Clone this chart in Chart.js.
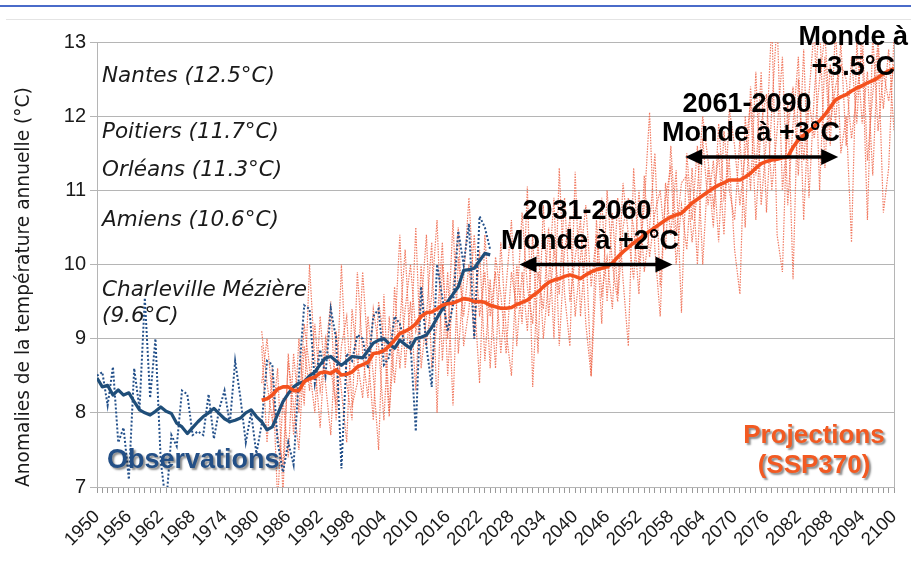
<!DOCTYPE html>
<html><head><meta charset="utf-8">
<script src="https://cdn.jsdelivr.net/npm/chart.js@4.4.1/dist/chart.umd.min.js"></script>
<style>
html,body{margin:0;padding:0;background:#fff;}
#wrap{position:relative;width:911px;height:566px;overflow:hidden;}
#topblue{position:absolute;left:0;top:5px;width:911px;height:2px;background:#4a6bc9;}
#topgray{position:absolute;left:6px;top:19px;width:905px;height:1px;background:#e4e4e4;}
canvas{position:absolute;left:0;top:0;}
</style></head><body>
<div id="wrap"><canvas id="c" width="911" height="566"></canvas><div id="topblue"></div><div id="topgray"></div></div>
<script>
// ---- Data ----
const obsStartYear = 1950;
const obsAnnual = [
  8.5, 8.55, 8.1, 8.62, 7.6, 7.8, 7.1, 8.6, 8.05, 9.55,
  8.2, 9.0, 7.35, 6.75, 7.7, 7.55, 8.3, 8.25, 7.7, 7.75,
  7.7, 8.25, 7.65, 8.05, 8.3, 7.85, 8.7, 8.2, 7.6, 8.0,
  7.45, 7.85, 8.7, 8.65, 7.6, 7.2, 7.6, 7.3, 8.5, 9.45,
  9.4, 8.4, 8.85, 8.5, 9.4, 9.0, 7.25, 8.8, 8.7, 9.05,
  9.0, 8.6, 9.3, 9.4, 8.65, 8.75, 9.3, 9.2, 8.9, 8.95,
  7.75, 9.7, 8.9, 8.35, 10.0, 9.55, 9.1, 9.45, 10.45, 10.0,
  10.55, 9.0, 10.65, 10.5, 10.2
];
const obsSmooth = [
  8.47, 8.35, 8.37, 8.24, 8.31, 8.24, 8.27, 8.15, 8.04, 8.00,
  7.97, 8.02, 8.08, 8.02, 7.99, 7.86, 7.81, 7.72, 7.80, 7.88,
  7.95, 8.00, 8.06, 7.99, 7.92, 7.88, 7.90, 7.93, 8.00, 8.04,
  7.95, 7.88, 7.77, 7.81, 7.98, 8.15, 8.26, 8.35, 8.40, 8.42,
  8.50, 8.55, 8.65, 8.74, 8.76, 8.70, 8.64, 8.70, 8.76, 8.75,
  8.74, 8.84, 8.94, 8.98, 9.00, 8.93, 8.87, 8.98, 8.92, 8.87,
  9.00, 9.02, 9.05, 9.15, 9.28, 9.40, 9.50, 9.60, 9.70, 9.92,
  9.93, 9.95, 10.05, 10.15, 10.13
];
const projStartYear = 1981;
const projSmooth = [
  8.17, 8.19, 8.24, 8.32, 8.35, 8.35, 8.30, 8.30, 8.42, 8.46,
  8.48, 8.54, 8.55, 8.53, 8.58, 8.51, 8.52, 8.55, 8.62, 8.65,
  8.68, 8.80, 8.81, 8.84, 8.90, 8.98, 9.07, 9.10, 9.14, 9.20,
  9.30, 9.35, 9.36, 9.40, 9.45, 9.47, 9.48, 9.51, 9.54, 9.53,
  9.50, 9.50, 9.49, 9.45, 9.43, 9.41, 9.41, 9.42, 9.46, 9.49,
  9.52, 9.58, 9.63, 9.70, 9.76, 9.79, 9.81, 9.84, 9.86, 9.84,
  9.81, 9.86, 9.90, 9.93, 9.95, 9.97, 10.02, 10.10, 10.17, 10.23,
  10.29, 10.34, 10.40, 10.45, 10.50, 10.55, 10.60, 10.64, 10.67, 10.69,
  10.76, 10.83, 10.88, 10.93, 10.98, 11.03, 11.07, 11.10, 11.14, 11.14,
  11.14, 11.18, 11.23, 11.30, 11.36, 11.39, 11.41, 11.42, 11.44, 11.45,
  11.58, 11.68, 11.74, 11.80, 11.86, 11.94, 12.02, 12.12, 12.22, 12.26,
  12.29, 12.34, 12.38, 12.41, 12.45, 12.48, 12.52, 12.57, 12.61, 12.64
];
const projMemberA = [
  8.9, 7.6, 8.6, 6.8, 8.2, 7.4, 8.8, 8.0, 9.2, 8.6,
  8.0, 9.3, 8.4, 7.7, 9.1, 8.3, 7.6, 9.4, 8.7, 8.2,
  9.3, 8.5, 7.5, 9.6, 8.0, 9.0, 10.4, 8.6, 9.5, 8.3,
  10.0, 8.9, 9.6, 10.6, 8.7, 9.9, 8.1, 10.1, 9.3, 10.0,
  9.0, 10.2, 8.7, 9.8, 8.6, 10.3, 9.1, 8.5, 10.0, 9.2,
  11.05, 8.35, 9.9, 9.4, 10.5, 9.0, 11.3, 9.6, 8.9, 11.25,
  9.3, 10.3, 8.5, 10.6, 9.6, 10.1, 9.4, 10.9, 9.8, 8.9,
  11.3, 10.0, 10.8, 12.05, 10.2, 9.3, 11.1, 10.4, 11.27, 9.35,
  11.5, 10.6, 11.6, 10.0, 11.3, 10.5, 11.9, 10.9, 11.4, 10.2,
  9.6, 12.0, 11.0, 12.6, 10.8, 11.7, 13.3, 10.4, 9.9, 12.2,
  9.8, 12.5, 11.4, 12.3, 13.2, 11.0, 12.8, 11.6, 13.2, 11.5,
  12.0, 10.3, 13.0, 11.9, 12.6, 11.2, 12.9, 10.7, 11.3, 13.1
];
const projMemberB = [
  9.1, 8.4, 7.9, 8.6, 6.9, 8.8, 7.7, 9.0, 8.1, 10.0,
  8.7, 7.8, 9.0, 8.6, 8.1, 10.0, 8.4, 7.9, 9.9, 8.8,
  8.2, 9.4, 8.9, 7.9, 9.3, 8.4, 9.2, 10.2, 8.8, 10.5,
  8.6, 9.3, 10.3, 8.0, 10.0, 9.0, 10.6, 8.8, 9.8, 10.9,
  9.6, 8.4, 10.4, 9.3, 9.9, 8.8, 9.7, 10.6, 8.9, 9.9,
  9.1, 10.4, 8.8, 10.8, 9.3, 10.2, 9.6, 10.9, 9.5, 10.1,
  10.6, 9.2, 8.49, 9.9, 10.9, 9.5, 10.7, 9.6, 11.1, 10.4,
  9.8, 11.0, 9.9, 10.5, 11.5, 9.7, 10.9, 11.3, 10.0, 10.8,
  10.2, 11.3, 10.0, 11.7, 10.8, 11.4, 10.3, 11.8, 11.0, 10.6,
  11.7, 10.5, 12.4, 11.2, 12.6, 10.7, 12.1, 13.3, 11.0, 11.8,
  12.4, 11.2, 12.9, 10.9, 12.3, 13.3, 11.3, 12.7, 11.9, 13.0,
  11.6, 12.8, 11.9, 13.2, 11.4, 12.3, 13.0, 12.1, 12.9, 11.8
];
const projMemberC = [
  8.4, 9.0, 8.2, 7.7, 7.3, 8.7, 8.1, 7.5, 8.9, 8.3,
  9.2, 8.3, 8.8, 9.5, 7.9, 8.9, 9.3, 8.1, 8.4, 9.9,
  8.8, 7.9, 9.5, 9.0, 7.95, 9.7, 8.6, 9.4, 10.0, 9.1,
  9.4, 10.4, 8.6, 9.2, 10.3, 8.5, 9.7, 10.5, 8.9, 9.4,
  10.4, 9.3, 9.9, 8.6, 10.1, 9.6, 8.8, 9.9, 9.4, 10.7,
  9.7, 9.2, 10.3, 9.0, 9.8, 10.9, 8.9, 10.2, 10.6, 9.3,
  10.1, 10.8, 9.7, 10.4, 9.2, 11.0, 10.0, 9.5, 10.5, 10.9,
  10.5, 9.6, 11.2, 10.1, 10.7, 11.0, 10.2, 11.6, 10.4, 11.1,
  11.2, 10.3, 11.0, 12.0, 11.4, 10.8, 11.5, 10.4, 12.1, 11.6,
  10.8, 11.5, 12.2, 10.6, 11.9, 12.3, 11.0, 11.8, 12.8, 10.8,
  11.9, 12.8, 10.6, 12.2, 11.7, 12.5, 13.1, 11.9, 12.4, 12.7,
  12.5, 11.7, 12.3, 12.9, 10.6, 13.1, 11.8, 12.6, 12.2, 12.7
];
const xMin = 1950, xMax = 2100, xLabelStep = 6;
const yTickLabels = [7, 8, 9, 10, 11, 12, 13];
const cityLabels = ['Nantes (12.5°C)', 'Poitiers (11.7°C)', 'Orléans (11.3°C)', 'Amiens (10.6°C)', 'Charleville Mézière', '(9.6°C)'];

const toXY = (start, arr) => arr.map((v, i) => ({x: start + i, y: v}));

const annot = {
  id: 'annot',
  afterDatasetsDraw(chart) {
    const {ctx, chartArea: a, scales: {x, y}} = chart;
    ctx.save();
    // right frame line
    ctx.strokeStyle = '#b5b5b5'; ctx.lineWidth = 1;
    ctx.beginPath(); ctx.moveTo(Math.round(a.right) + 0.5, a.top); ctx.lineTo(Math.round(a.right) + 0.5, a.bottom); ctx.stroke();

    // city labels
    const cityY = [12.53, 11.78, 11.27, 10.6, 9.65, 9.3];
    ctx.fillStyle = '#1a1a1a';
    ctx.font = 'italic 21.5px "DejaVu Sans"';
    ctx.textAlign = 'left'; ctx.textBaseline = 'middle';
    cityLabels.forEach((t, i) => ctx.fillText(t, a.left + 5, y.getPixelForValue(cityY[i])));

    // arrows
    const arrow = (x1v, x2v, yv) => {
      const x1 = x.getPixelForValue(x1v), x2 = x.getPixelForValue(x2v), yy = y.getPixelForValue(yv);
      const hl = 17, hh = 8;
      ctx.fillStyle = '#000'; ctx.strokeStyle = '#000'; ctx.lineWidth = 3.5;
      ctx.beginPath(); ctx.moveTo(x1 + hl - 2, yy); ctx.lineTo(x2 - hl + 2, yy); ctx.stroke();
      ctx.beginPath(); ctx.moveTo(x1, yy); ctx.lineTo(x1 + hl, yy - hh); ctx.lineTo(x1 + hl, yy + hh); ctx.closePath(); ctx.fill();
      ctx.beginPath(); ctx.moveTo(x2, yy); ctx.lineTo(x2 - hl, yy - hh); ctx.lineTo(x2 - hl, yy + hh); ctx.closePath(); ctx.fill();
    };
    arrow(2029.5, 2058.3, 10.0);
    arrow(2060.7, 2089.5, 11.45);

    // bold annotations
    ctx.fillStyle = '#000';
    ctx.font = 'bold 27px "Liberation Sans"';
    ctx.textAlign = 'center'; ctx.textBaseline = 'middle';
    ctx.fillText('2031-2060', 587, 212);
    ctx.fillText('Monde à +2°C', 590, 242);
    ctx.fillText('2061-2090', 747, 105);
    ctx.fillText('Monde à +3°C', 751, 134);
    ctx.textAlign = 'right';
    ctx.fillText('Monde à', 908, 38);
    ctx.fillText('+3.5°C', 895, 68);

    // series labels with shadow
    ctx.shadowColor = 'rgba(0,0,0,0.45)'; ctx.shadowOffsetX = 2; ctx.shadowOffsetY = 2; ctx.shadowBlur = 2;
    ctx.font = 'bold 27px "Liberation Sans"';
    ctx.textAlign = 'left'; ctx.fillStyle = '#234f86';
    ctx.fillText('Observations', 107, 461);
    ctx.textAlign = 'center'; ctx.fillStyle = '#f25a22';
    ctx.font = 'bold 26px "Liberation Sans"';
    ctx.fillText('Projections', 814, 436);
    ctx.fillText('(SSP370)', 814, 466);
    ctx.restore();
  }
};

const memberStyle = {borderColor: 'rgba(238,100,70,0.85)', borderWidth: 1.2, borderDash: [1.5, 1.2]};

new Chart(document.getElementById('c'), {
  type: 'line',
  data: {
    datasets: [
      {label: 'Projection lissée', data: toXY(projStartYear, projSmooth), borderColor: '#f4511e', borderWidth: 3.6, borderJoinStyle: 'round'},
      {label: 'Observations lissées', data: toXY(obsStartYear, obsSmooth), borderColor: '#1f4e79', borderWidth: 3.2, borderJoinStyle: 'round'},
      {label: 'Observations', data: toXY(obsStartYear, obsAnnual), borderColor: '#23508a', borderWidth: 2, borderDash: [2, 2]},
      Object.assign({label: 'Modèle A', data: toXY(projStartYear, projMemberA)}, memberStyle),
      Object.assign({label: 'Modèle B', data: toXY(projStartYear, projMemberB)}, memberStyle),
      Object.assign({label: 'Modèle C', data: toXY(projStartYear, projMemberC)}, memberStyle)
    ]
  },
  options: {
    responsive: false, animation: false, devicePixelRatio: 1,
    elements: {point: {radius: 0}, line: {tension: 0, fill: false}},
    layout: {padding: {top: 42, right: 17, left: 0, bottom: 0}},
    plugins: {legend: {display: false}, tooltip: {enabled: false}},
    scales: {
      x: {
        type: 'linear', min: xMin, max: xMax,
        afterFit(s) { s.height = 79; s.paddingRight = 0; s.paddingLeft = 0; },
        grid: {drawOnChartArea: false, color: '#9a9a9a', tickLength: 6, drawTicks: true},
        border: {color: '#b5b5b5'},
        ticks: {
          stepSize: 1, autoSkip: false, maxRotation: 45, minRotation: 45, padding: 13,
          color: '#1a1a1a', font: {family: 'Liberation Sans', size: 18.5},
          callback: (v) => ((v - xMin) % xLabelStep === 0 ? String(v) : '')
        }
      },
      y: {
        min: yTickLabels[0], max: yTickLabels[yTickLabels.length - 1],
        afterFit(s) { s.width = 97; s.paddingTop = 0; s.paddingBottom = 0; },
        afterBuildTicks(s) { s.ticks = yTickLabels.map(v => ({value: v})); },
        grid: {color: '#b5b5b5', tickLength: 7},
        border: {color: '#b5b5b5'},
        ticks: {stepSize: 1, padding: 4, color: '#1a1a1a', font: {family: 'Liberation Sans', size: 20}},
        title: {display: true, text: 'Anomalies de la température annuelle (°C)', color: '#1a1a1a', align: 'start',
                font: {family: 'DejaVu Sans', size: 18.6}, padding: {top: 13, bottom: 0}}
      }
    }
  },
  plugins: [annot]
});
</script>
</body></html>
